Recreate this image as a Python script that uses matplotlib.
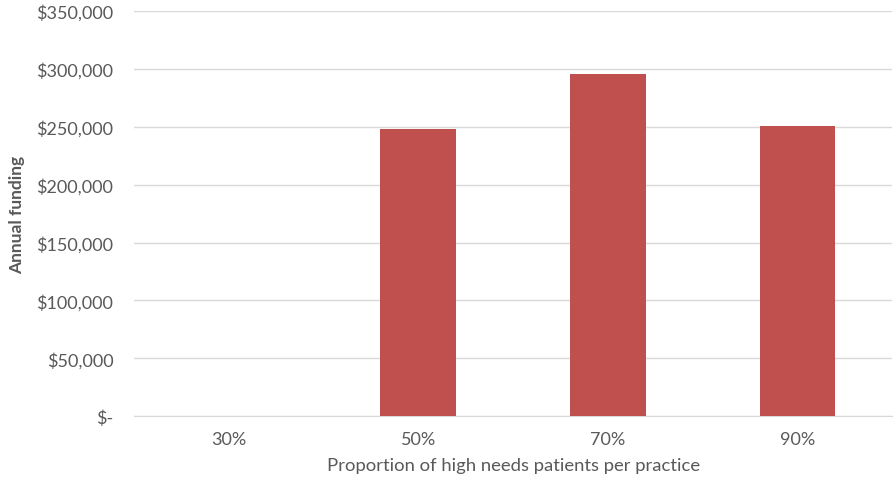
import numpy as np
import matplotlib.pyplot as plt
from matplotlib.ticker import FuncFormatter

# Annual funding by share of high needs patients
categories = ['30%', '50%', '70%', '90%']
funding = [0, 248500, 295700, 250300]

plt.rcParams['font.family'] = ['Lato', 'DejaVu Sans']
text_color = '#595959'

fig = plt.figure(figsize=(8.94, 4.85), dpi=100)
ax = fig.add_axes([0.15, 0.14, 0.848, 0.835])

x = np.arange(len(categories))
ax.bar(x, funding, width=0.4, color='#C0504D', zorder=3)

ax.set_xlim(-0.5, len(categories) - 0.5)
ax.set_ylim(0, 350000)
ax.set_yticks(np.arange(0, 350001, 50000))
ax.yaxis.set_major_formatter(FuncFormatter(lambda v, p: '$-' if v == 0 else f'${v:,.0f}'))
ax.set_xticks(x)
ax.set_xticklabels(categories)

ax.grid(axis='y', color='#D9D9D9', linewidth=1, zorder=0)
for side in ['top', 'right', 'left']:
    ax.spines[side].set_visible(False)
ax.spines['bottom'].set_color('#D9D9D9')
ax.tick_params(axis='both', length=0, colors=text_color, labelsize=13)
ax.tick_params(axis='y', pad=15)
ax.tick_params(axis='x', pad=11)

ax.set_xlabel('Proportion of high needs patients per practice', color=text_color, fontsize=13.3, labelpad=7)
ax.set_ylabel('Annual funding', color=text_color, fontsize=12.5, fontweight='bold', labelpad=8)

fig.savefig('out.png', dpi=100)
